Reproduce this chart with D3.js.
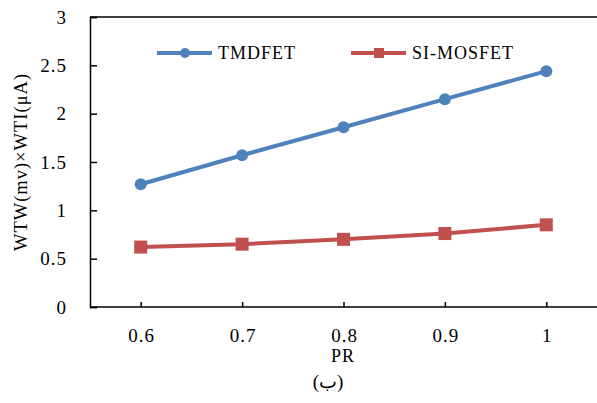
<!DOCTYPE html>
<html>
<head>
<meta charset="utf-8">
<script src="https://cdn.jsdelivr.net/npm/d3@7"></script>
<style>
  body { margin: 0; background: #fff; }
  text { font-family: "Liberation Serif", "DejaVu Serif", serif; fill: #000; }
</style>
</head>
<body>
<div id="chart"></div>
<script>
const categories = ["0.6", "0.7", "0.8", "0.9", "1"];
const tmdfet = [1.27, 1.57, 1.86, 2.15, 2.44];
const simosfet = [0.62, 0.65, 0.70, 0.76, 0.85];
const yTicks = [0, 0.5, 1, 1.5, 2, 2.5, 3];

const width = 597, height = 403;
const margin = { top: 17, right: 0, bottom: 96, left: 90 };

const svg = d3.select("#chart")
  .append("svg")
  .attr("width", width)
  .attr("height", height);

const x = d3.scalePoint()
  .domain(categories)
  .range([margin.left, width - margin.right])
  .padding(0.5);

const y = d3.scaleLinear()
  .domain([0, 3])
  .range([height - margin.bottom, margin.top]);

// frame: top and bottom lines, left axis
svg.append("line")
  .attr("x1", margin.left).attr("x2", width)
  .attr("y1", margin.top).attr("y2", margin.top)
  .attr("stroke", "#000").attr("stroke-width", 1.5);

const yAxis = svg.append("g")
  .attr("transform", `translate(${margin.left},0)`)
  .call(d3.axisRight(y).tickValues(yTicks).tickSize(7).tickFormat(""));
yAxis.select(".domain").attr("stroke-width", 1.5);
yAxis.selectAll(".tick line").attr("stroke-width", 1.5);

svg.append("g")
  .selectAll("text")
  .data(yTicks)
  .join("text")
  .attr("x", 67)
  .attr("y", d => y(d))
  .attr("dy", "0.35em")
  .attr("text-anchor", "end")
  .style("font-size", "19px")
  .style("letter-spacing", "1px")
  .text(d => d);

const xAxis = svg.append("g")
  .attr("transform", `translate(0,${height - margin.bottom})`)
  .call(d3.axisTop(x).tickSize(5).tickFormat(""));
xAxis.select(".domain").attr("stroke-width", 1.5).attr("d", `M${margin.left},0H${width}`);
xAxis.selectAll(".tick line").attr("stroke-width", 1.5);

svg.append("g")
  .selectAll("text")
  .data(categories)
  .join("text")
  .attr("x", d => x(d) + 1)
  .attr("y", 335)
  .attr("dy", "0.35em")
  .attr("text-anchor", "middle")
  .style("font-size", "19px")
  .style("letter-spacing", "1px")
  .text(d => d);

svg.append("text")
  .attr("x", 343).attr("y", 356)
  .attr("dy", "0.35em")
  .attr("text-anchor", "middle")
  .style("font-size", "18px")
  .style("letter-spacing", "1px")
  .text("PR");

svg.append("text")
  .attr("x", 328).attr("y", 381)
  .attr("dy", "0.35em")
  .attr("text-anchor", "middle")
  .style("font-size", "19px")
  .text("(ب)");

svg.append("text")
  .attr("transform", "translate(21,162) rotate(-90)")
  .attr("dy", "0.35em")
  .attr("text-anchor", "middle")
  .style("font-size", "18.5px")
  .style("letter-spacing", "1px")
  .text("WTW(mv)×WTI(μA)");

const series = [
  { name: "TMDFET", values: tmdfet, color: "#4F81BD", shape: "circle" },
  { name: "SI-MOSFET", values: simosfet, color: "#C0504D", shape: "square" }
];

const line = d3.line()
  .x((d, i) => x(categories[i]))
  .y(d => y(d));

function marker(g, shape, color) {
  if (shape === "circle") {
    g.append("circle").attr("r", 6).attr("fill", color);
  } else {
    g.append("rect").attr("x", -6.5).attr("y", -6.5)
      .attr("width", 13).attr("height", 13).attr("fill", color);
  }
}

series.forEach(s => {
  svg.append("path")
    .datum(s.values)
    .attr("fill", "none")
    .attr("stroke", s.color)
    .attr("stroke-width", 4)
    .attr("d", line);
  s.values.forEach((v, i) => {
    const g = svg.append("g").attr("transform", `translate(${x(categories[i])},${y(v)})`);
    marker(g, s.shape, s.color);
  });
});

// legend
const legendPos = [157, 351];
series.forEach((s, i) => {
  const lg = svg.append("g").attr("transform", `translate(${legendPos[i]},53)`);
  lg.append("line").attr("x1", 0).attr("x2", 55)
    .attr("stroke", s.color).attr("stroke-width", 4);
  const m = lg.append("g").attr("transform", "translate(28,0)");
  if (s.shape === "circle") {
    m.append("circle").attr("r", 5).attr("fill", s.color);
  } else {
    m.append("rect").attr("x", -5).attr("y", -5).attr("width", 10).attr("height", 10).attr("fill", s.color);
  }
  lg.append("text")
    .attr("x", 61).attr("dy", "0.35em")
    .style("font-size", "18px")
    .style("letter-spacing", "1px")
    .text(s.name);
});
</script>
</body>
</html>
